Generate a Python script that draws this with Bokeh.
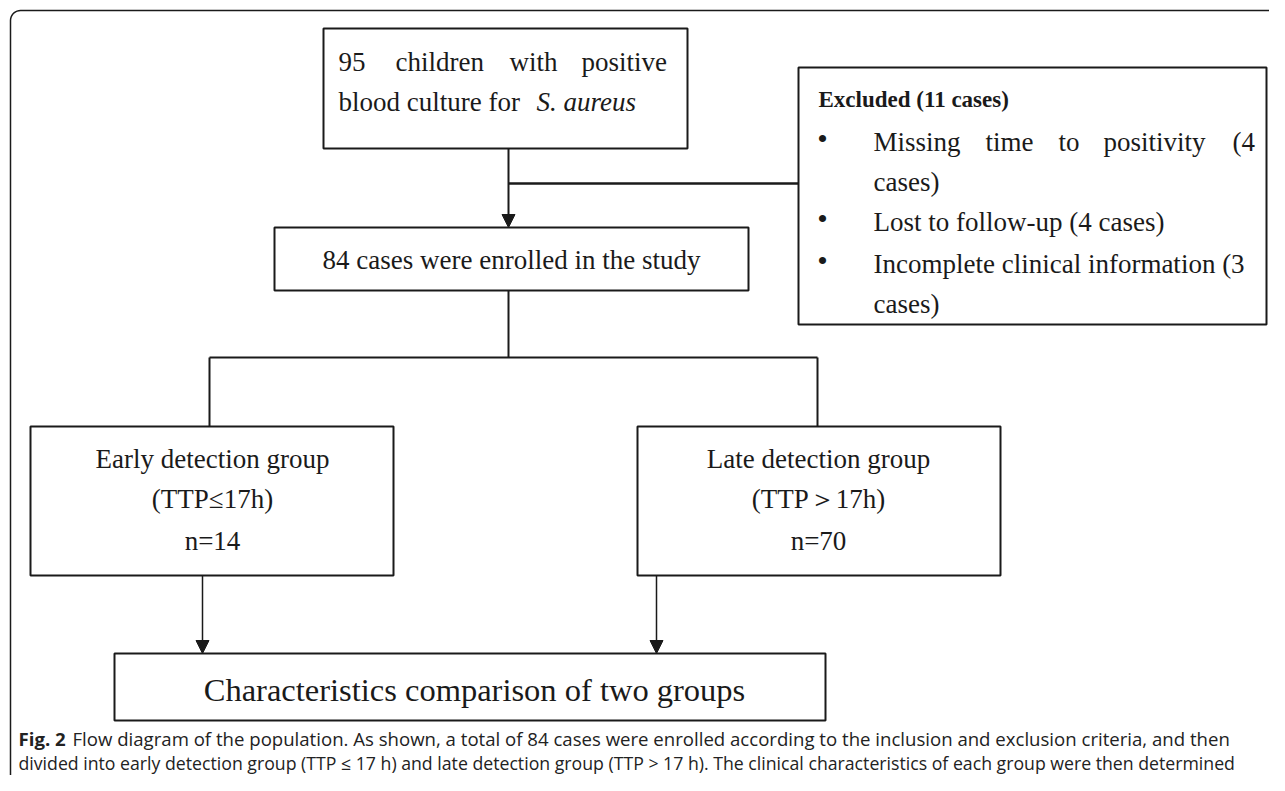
from bokeh.plotting import figure
from bokeh.models import Range1d, Arrow, NormalHead
from bokeh.core.properties import value
from bokeh.embed import file_html
from bokeh.resources import INLINE
import math

# ---------------- data ----------------
total_children = 95
organism = "S. aureus"
excluded_total = 11
excluded_reasons = ["Missing time to positivity", "Lost to follow-up", "Incomplete clinical information"]
excluded_counts = [4, 4, 3]
enrolled = 84
group_names = ["Early detection group", "Late detection group"]
group_ttp = ["(TTP\u226417h)", "(TTP\uff1e17h)"]
group_n = [14, 70]
final_step = "Characteristics comparison of two groups"
caption_bold = "Fig. 2"
caption_lines = [
    " Flow diagram of the population. As shown, a total of 84 cases were enrolled according to the inclusion and exclusion criteria, and then",
    "divided into early detection group (TTP \u2264 17 h) and late detection group (TTP > 17 h). The clinical characteristics of each group were then determined",
]

SERIF = value("Liberation Serif")
SANS = value("Open Sans")
INK = "#1a1a1a"
FS = 27
DY = -9  # text baseline correction

p = figure(width=1269, height=775, output_backend="svg", toolbar_location=None,
           x_range=Range1d(0, 1269), y_range=Range1d(775, 0),
           x_axis_type=None, y_axis_type=None, min_border=0,
           outline_line_color=None, background_fill_color="white",
           border_fill_color="white")
p.grid.visible = False

# ---------- outer frame (rounded top-left / bottom-left) ----------
r = 10
fx, fy_top, fy_bot = 10, 10, 786
xs = [1290, fx + r]
ys = [fy_top, fy_top]
for k in range(1, 10):
    a = math.pi / 2 + k * (math.pi / 2) / 9
    xs.append(fx + r + r * math.cos(a)); ys.append(fy_top + r - r * math.sin(a))
xs.append(fx); ys.append(fy_bot - r)
for k in range(1, 5):
    a = math.pi + k * (math.pi / 2) / 9
    xs.append(fx + r + r * math.cos(a)); ys.append(fy_bot - r - r * math.sin(a))
p.line(xs, ys, line_color=INK, line_width=1.5)

# ---------- boxes ----------
def box(l, t, rr, b, lw=2):
    p.quad(left=l, right=rr, top=t, bottom=b, fill_color="white",
           line_color=INK, line_width=lw)

box(323, 28, 687, 148)     # 95 children
box(798, 67, 1266, 324)    # excluded
box(274, 227, 748, 290)    # enrolled
box(30, 426, 393, 575)     # early
box(637, 426, 1000, 575)   # late
box(114, 653, 825, 720)    # characteristics

# ---------- connectors ----------
p.line([508, 798], [183, 183], line_color=INK, line_width=2.5)
p.line([508, 508], [290, 357], line_color=INK, line_width=2)
p.line([209, 817], [357, 357], line_color=INK, line_width=2)
p.line([209, 209], [357, 426], line_color=INK, line_width=2)
p.line([817, 817], [357, 426], line_color=INK, line_width=2)

def arrow(x, y0, y1, lw):
    p.add_layout(Arrow(end=NormalHead(size=13, fill_color=INK, line_color=INK),
                       x_start=x, y_start=y0, x_end=x, y_end=y1,
                       line_color=INK, line_width=lw))

arrow(508, 148, 227, 2)
arrow(202, 575, 653, 1.5)
arrow(656, 575, 653, 1.5)

def t(x, y, s, size=FS, font=SERIF, style="normal", align="left", color=INK,
      baseline="alphabetic"):
    p.text(x=[x], y=[y + DY], text=[s], text_font=font, text_font_size=f"{size}px",
           text_font_style=style, text_align=align, text_baseline=baseline,
           text_color=color)

# box 1 (justified first line)
line1 = [str(total_children), "children", "with", "positive"]
for w, x in zip(line1, [338, 395, 509, 581]):
    t(x, 70, w)
t(338, 110, "blood culture for")
t(536, 110, organism, style="italic")

# excluded box
t(818, 108, f"Excluded ({excluded_total} cases)", size=23, style="bold")
for by in [150, 230, 272]:
    t(822, by - 3, "\u2022", size=30, align="center")
w1 = excluded_reasons[0].split() + [f"({excluded_counts[0]}"]
for w, x in zip(w1, [873, 985, 1058, 1103, 1232]):
    t(x, 150, w)
t(873, 190, "cases)")
t(873, 230, f"{excluded_reasons[1]} ({excluded_counts[1]} cases)")
t(873, 272, f"{excluded_reasons[2]} ({excluded_counts[2]}")
t(873, 312, "cases)")

# enrolled
t(511, 268, f"{enrolled} cases were enrolled in the study", align="center")

# groups
for cx, name, ttp, n in zip([212, 818], group_names, group_ttp, group_n):
    t(cx, 467, name, align="center")
    t(cx, 507, ttp, align="center")
    t(cx, 549, f"n={n}", align="center")

# final
t(474, 698, final_step, size=32.5, align="center")

# caption
t(18, 747, caption_bold, size=18.6, font=SANS, style="bold", color="#222")
t(72, 747, caption_lines[0], size=18.6, font=SANS, color="#222")
t(18, 771, caption_lines[1], size=17.7, font=SANS, color="#222")

open("out.html", "w").write(file_html(p, INLINE))
